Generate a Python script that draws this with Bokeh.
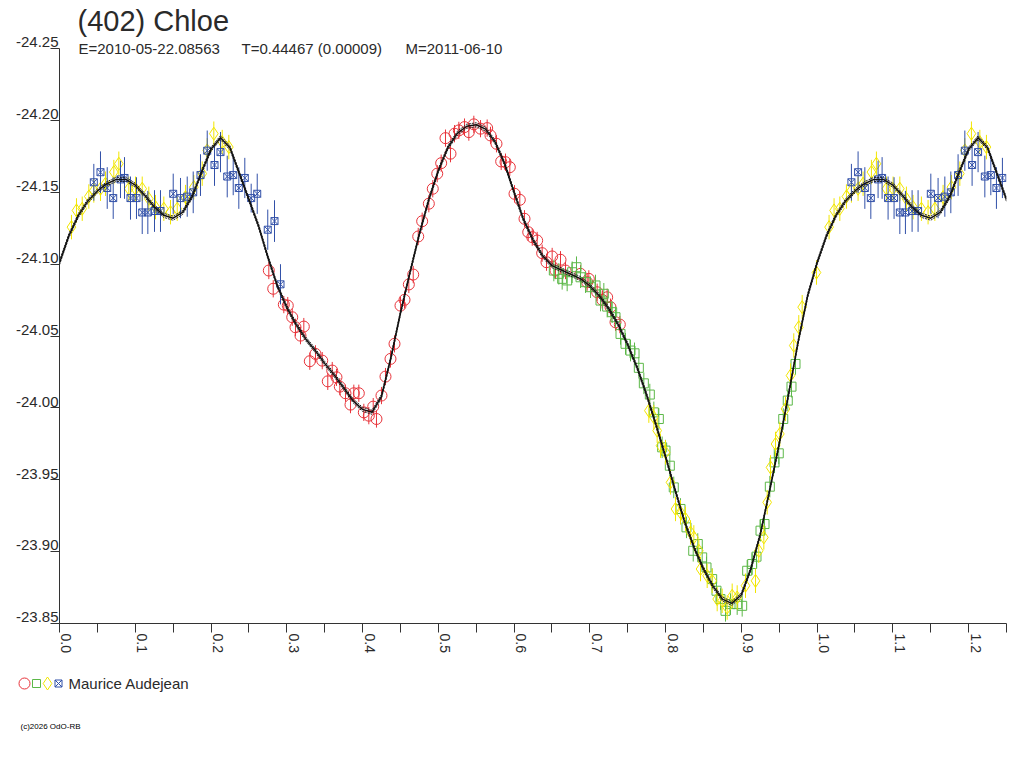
import math
from bokeh.plotting import figure
from bokeh.models import Range1d, FixedTicker, Label, ColumnDataSource, LinearAxis
from bokeh.layouts import column
from bokeh.embed import file_html
from bokeh.resources import INLINE
from bokeh.core.properties import value

# ---------------- data ----------------
TITLE = "(402) Chloe"
SUB_E = "E=2010-05-22.08563"
SUB_T = "T=0.44467 (0.00009)"
SUB_M = "M=2011-06-10"
OBSERVER = "Maurice Audejean"
COPYRIGHT = "(c)2026 OdO-RB"

X_TICKS = [0.0, 0.1, 0.2, 0.3, 0.4, 0.5, 0.6, 0.7, 0.8, 0.9, 1.0, 1.1, 1.2]
X_LABELS = ["0.0", "0.1", "0.2", "0.3", "0.4", "0.5", "0.6", "0.7", "0.8", "0.9", "1.0", "1.1", "1.2"]
X_MINOR = [0.05, 0.15, 0.25, 0.35, 0.45, 0.55, 0.65, 0.75, 0.85, 0.95, 1.05, 1.15, 1.25]
Y_TICKS = [-24.25, -24.20, -24.15, -24.10, -24.05, -24.00, -23.95, -23.90, -23.85]
Y_LABELS = ["-24.25", "-24.20", "-24.15", "-24.10", "-24.05", "-24.00", "-23.95", "-23.90", "-23.85"]
X_MIN, X_MAX = 0.0, 1.25
Y_BOTTOM, Y_AXIS_TOP, Y_FRAME_TOP = -23.85, -24.25, -24.28
WRAP_LIMIT = 0.25

red_phase = [0.2763, 0.2821, 0.2961, 0.3013, 0.3072, 0.3115, 0.3225, 0.3181, 0.3304, 0.3379,
             0.3468, 0.3541, 0.3600, 0.3656, 0.3700, 0.3775, 0.3841, 0.3885, 0.3951, 0.4017,
             0.4083, 0.4184, 0.4141, 0.4250, 0.4303, 0.4369, 0.4422, 0.4501, 0.4554, 0.4611,
             0.4669, 0.4735, 0.4787, 0.4875, 0.4927, 0.4986, 0.5038, 0.5095, 0.5161, 0.5214,
             0.5271, 0.5346, 0.5403, 0.5469, 0.5557, 0.5645, 0.5689, 0.5768, 0.5830, 0.5887,
             0.5944, 0.6006, 0.6076, 0.6138, 0.6187, 0.6240, 0.6305, 0.6371, 0.6428, 0.6503,
             0.6613, 0.6547, 0.6679, 0.6877, 0.6965, 0.6987, 0.7097, 0.7163, 0.7229, 0.7273,
             0.7339, 0.7396]
red_mag = [-24.0956, -24.0829, -24.0719, -24.0712, -24.0631, -24.0561, -24.0566, -24.0503, -24.0325, -24.0376,
           -24.0329, -24.0185, -24.0260, -24.0213, -24.0148, -24.0102, -24.0023, -24.0102, -24.0102, -23.9969,
           -23.9946, -23.9923, -24.0009, -24.0086, -24.0218, -24.0341, -24.0446, -24.0712, -24.0752, -24.0859,
           -24.0928, -24.1193, -24.1299, -24.1421, -24.1525, -24.1630, -24.1703, -24.1877, -24.1769, -24.1908,
           -24.1931, -24.1954, -24.1919, -24.1973, -24.1943, -24.1947, -24.1896, -24.1838, -24.1715, -24.1710,
           -24.1675, -24.1490, -24.1448, -24.1316, -24.1223, -24.1188, -24.1165, -24.1077, -24.1014, -24.1054,
           -24.1031, -24.0956, -24.0956, -24.0933, -24.0875, -24.0898, -24.0805, -24.0752, -24.0770, -24.0701,
           -24.0596, -24.0580]
red_err = 0.006

green_phase = [0.6525, 0.6591, 0.6701, 0.6635, 0.6767, 0.6824, 0.6877, 0.6943, 0.7009, 0.7075,
               0.7141, 0.7185, 0.7229, 0.7295, 0.7339, 0.7405, 0.7471, 0.7537, 0.7590, 0.7647,
               0.7713, 0.7792, 0.7845, 0.7911, 0.7955, 0.7999, 0.8056, 0.8108, 0.8197, 0.8276,
               0.8365, 0.8425, 0.8483, 0.8540, 0.8615, 0.8672, 0.8725, 0.8791, 0.8857, 0.8945,
               0.9011, 0.9077, 0.9143, 0.9200, 0.9253, 0.9306, 0.9376, 0.9438, 0.9494, 0.9553,
               0.9613, 0.9662, 0.9715]
green_mag = [-24.0956, -24.0933, -24.0887, -24.0898, -24.0944, -24.0979, -24.0909, -24.0875, -24.0840, -24.0852,
             -24.0747, -24.0794, -24.0705, -24.0666, -24.0631, -24.0515, -24.0446, -24.0399, -24.0380, -24.0279,
             -24.0171, -24.0093, -23.9969, -23.9923, -23.9726, -23.9703, -23.9598, -23.9447, -23.9297, -23.9169,
             -23.9006, -23.9053, -23.8960, -23.8890, -23.8809, -23.8728, -23.8670, -23.8588, -23.8635, -23.8635,
             -23.8623, -23.8867, -23.8914, -23.8965, -23.9146, -23.9192, -23.9452, -23.9621, -23.9684, -23.9923,
             -24.0051, -24.0148, -24.0306]
green_err = 0.0075

yellow_phase = [0.7779, 0.7845, 0.7889, 0.7933, 0.7999, 0.8065, 0.8131, 0.8197, 0.8263, 0.8329,
                0.8373, 0.8439, 0.8461, 0.8549, 0.8615, 0.8681, 0.8747, 0.8813, 0.8879, 0.8945,
                0.9055, 0.9187, 0.9230, 0.9297, 0.9341, 0.9385, 0.9451, 0.9508, 0.9583, 0.9649,
                0.9692, 0.9758, 0.9803, 0.9992,
                0.0158, 0.0224, 0.0300, 0.0387, 0.0453, 0.0541, 0.0607, 0.0717, 0.0783, 0.0915,
                0.1003, 0.1092, 0.1179, 0.1267, 0.1377, 0.1465, 0.1554, 0.1663, 0.1773, 0.1884,
                0.1950, 0.2037, 0.2148, 0.2235]
yellow_mag = [-23.9981, -23.9935, -23.9842, -23.9737, -23.9691, -23.9482, -23.9297, -23.9273, -23.9227, -23.9134,
              -23.9099, -23.9006, -23.8879, -23.8832, -23.8797, -23.8670, -23.8658, -23.8611, -23.8693, -23.8681,
              -23.8763, -23.8797, -23.9006, -23.9099, -23.9343, -23.9586, -23.9749, -23.9819, -23.9993, -24.0225,
              -24.0434, -24.0561, -24.0701, -24.0942,
              -24.1258, -24.1374, -24.1386, -24.1471, -24.1513, -24.1525, -24.1560, -24.1641, -24.1699, -24.1525,
              -24.1525, -24.1525, -24.1455, -24.1397, -24.1386, -24.1362, -24.1386, -24.1467, -24.1536, -24.1630,
              -24.1792, -24.1908, -24.1850, -24.1815]
yellow_err = 0.0085

blue_phase = [0.0453, 0.0541, 0.0630, 0.0709, 0.0805, 0.0858, 0.0937, 0.1016, 0.1092, 0.1166,
              0.1254, 0.1333, 0.1501, 0.1597, 0.1686, 0.1765, 0.1861, 0.1950, 0.2046, 0.2125,
              0.2214, 0.2293, 0.2367, 0.2446, 0.2530, 0.2610, 0.2749, 0.2838, 0.2917]
blue_mag = [-24.157, -24.164, -24.153, -24.146, -24.159, -24.160, -24.146, -24.146, -24.136, -24.136,
            -24.137, -24.137, -24.149, -24.146, -24.147, -24.150, -24.162, -24.179, -24.169, -24.178,
            -24.161, -24.162, -24.153, -24.160, -24.146, -24.149, -24.124, -24.130, -24.086]
blue_err = [0.0128, 0.0145, 0.0145, 0.0145, 0.0130, 0.0145, 0.0150, 0.0145, 0.0150, 0.0150,
            0.0145, 0.0145, 0.0140, 0.0140, 0.0140, 0.0145, 0.0145, 0.0140, 0.0145, 0.0140,
            0.0145, 0.0140, 0.0145, 0.0140, 0.0100, 0.0140, 0.0140, 0.0145, 0.0140]

fit_phase = [0.0, 0.0125, 0.025, 0.0375, 0.05, 0.0625, 0.075, 0.0875, 0.1, 0.1125,
             0.125, 0.1375, 0.15, 0.1625, 0.175, 0.1875, 0.2, 0.2125, 0.225, 0.2375,
             0.25, 0.2625, 0.275, 0.2875, 0.3, 0.3125, 0.325, 0.3375, 0.35, 0.3625,
             0.375, 0.3875, 0.4, 0.4125, 0.425, 0.4375, 0.45, 0.4625, 0.475, 0.4875,
             0.5, 0.5125, 0.525, 0.5375, 0.55, 0.5625, 0.575, 0.5875, 0.6, 0.6125,
             0.625, 0.6375, 0.65, 0.6625, 0.675, 0.6875, 0.7, 0.7125, 0.725, 0.7375,
             0.75, 0.7625, 0.775, 0.7875, 0.8, 0.8125, 0.825, 0.8375, 0.85, 0.8625,
             0.875, 0.8875, 0.9, 0.9125, 0.925, 0.9375, 0.95, 0.9625, 0.975, 0.9875, 1.0]
fit_mag = [-24.101, -24.120, -24.134, -24.144, -24.151, -24.156, -24.159, -24.159, -24.155, -24.148,
           -24.140, -24.134, -24.132, -24.136, -24.147, -24.164, -24.180, -24.188, -24.181, -24.163,
           -24.145, -24.127, -24.105, -24.085, -24.070, -24.058, -24.048, -24.040, -24.031, -24.023,
           -24.014, -24.005, -23.999, -23.997, -24.008, -24.035, -24.066, -24.094, -24.121, -24.145,
           -24.165, -24.181, -24.191, -24.196, -24.197, -24.194, -24.185, -24.170, -24.150, -24.131,
           -24.117, -24.106, -24.099, -24.096, -24.093, -24.090, -24.085, -24.078, -24.069, -24.058,
           -24.044, -24.028, -24.009, -23.988, -23.966, -23.943, -23.921, -23.903, -23.888, -23.876,
           -23.867, -23.864, -23.870, -23.888, -23.912, -23.943, -23.975, -24.010, -24.046, -24.078, -24.101]
FIT_BAND = 0.0014

# ---------------- styles ----------------
FONT = "Liberation Sans"
TXT = "#2a2a2a"
AX = "#333333"
RED = "#e8333a"
GREEN = "#5cb848"
YELLOW = "#f2e600"
BLUE = "#3150a8"
YLAB_SHIFT = 0.0043   # lift of the y tick labels above their tick (in magnitudes)
XLAB_SHIFT = 0.0092   # shift of the rotated x tick labels right of their tick (in phase)


def wrapped(ph, mg, err):
    errs = err if isinstance(err, list) else [err] * len(ph)
    xs, ys, es = list(ph), list(mg), list(errs)
    for a, b, c in zip(ph, mg, errs):
        if a < WRAP_LIMIT:
            xs.append(a + 1.0)
            ys.append(b)
            es.append(c)
    return dict(x=xs, y=ys, lo=[y - e for y, e in zip(ys, es)], hi=[y + e for y, e in zip(ys, es)])


p = figure(width=1016, height=662, x_range=Range1d(X_MIN, X_MAX),
           y_range=Range1d(Y_BOTTOM, Y_FRAME_TOP),
           output_backend="svg", toolbar_location=None,
           min_border_left=59, min_border_right=10, min_border_top=5, min_border_bottom=39)
p.frame_align = False
p.xgrid.visible = False
p.ygrid.visible = False
p.outline_line_color = None
p.extra_x_ranges = {"xlab": Range1d(X_MIN - XLAB_SHIFT, X_MAX - XLAB_SHIFT)}
p.extra_y_ranges = {"ylab": Range1d(Y_BOTTOM + YLAB_SHIFT, Y_FRAME_TOP + YLAB_SHIFT)}

for ax in (p.xaxis[0], p.yaxis[0]):
    ax.axis_line_color = AX
    ax.major_tick_line_color = AX
    ax.minor_tick_line_color = AX
    ax.major_tick_in = 0
    ax.major_tick_out = 9
    ax.minor_tick_in = 0
    ax.minor_tick_out = 9
    ax.major_label_standoff = 0
    ax.major_label_text_font_size = "1px"

p.xaxis[0].ticker = FixedTicker(ticks=X_TICKS, minor_ticks=X_MINOR)
p.xaxis[0].major_label_overrides = {t: "" for t in X_TICKS}
p.yaxis[0].ticker = FixedTicker(ticks=Y_TICKS, minor_ticks=[])
p.yaxis[0].major_label_overrides = {t: "" for t in Y_TICKS}
p.yaxis[0].bounds = (Y_AXIS_TOP, Y_BOTTOM)

# label-only axes (tick values written by the library's axes)
ylab = LinearAxis(y_range_name="ylab", ticker=FixedTicker(ticks=Y_TICKS, minor_ticks=[]),
                  major_label_overrides=dict(zip(Y_TICKS, Y_LABELS)),
                  axis_line_color=None, major_tick_line_color=None, minor_tick_line_color=None,
                  major_tick_out=0, major_tick_in=0, minor_tick_out=0, minor_tick_in=0,
                  major_label_standoff=-8, major_label_text_font=FONT,
                  major_label_text_font_size="15px", major_label_text_color=TXT)
p.add_layout(ylab, "left")
xlab = LinearAxis(x_range_name="xlab", ticker=FixedTicker(ticks=X_TICKS, minor_ticks=[]),
                  major_label_overrides=dict(zip(X_TICKS, X_LABELS)),
                  major_label_orientation=-math.pi / 2,
                  axis_line_color=None, major_tick_line_color=None, minor_tick_line_color=None,
                  major_tick_out=0, major_tick_in=0, minor_tick_out=0, minor_tick_in=0,
                  major_label_standoff=1, major_label_text_font=FONT,
                  major_label_text_font_size="14px", major_label_text_color=TXT)
p.add_layout(xlab, "below")

series = [
    (red_phase, red_mag, red_err, RED, "circle", 11),
    (green_phase, green_mag, green_err, GREEN, "square", 9),
    (yellow_phase, yellow_mag, yellow_err, YELLOW, "diamond", 13),
    (blue_phase, blue_mag, blue_err, BLUE, "square_x", 7),
]
for ph, mg, er, col, mk, sz in series:
    src = ColumnDataSource(wrapped(ph, mg, er))
    p.segment(x0="x", y0="lo", x1="x", y1="hi", source=src, line_color=col, line_width=1)
    p.scatter(x="x", y="y", source=src, marker=mk, size=sz, fill_color=None,
              line_color=col, line_width=1)

fx = list(fit_phase) + [a + 1.0 for a in fit_phase if 0 < a <= WRAP_LIMIT]
fy = list(fit_mag) + [b for a, b in zip(fit_phase, fit_mag) if 0 < a <= WRAP_LIMIT]
p.line(fx, [y - FIT_BAND for y in fy], line_color="#222222", line_width=1, line_dash="2 1")
p.line(fx, [y + FIT_BAND for y in fy], line_color="#222222", line_width=1, line_dash="2 1")
p.line(fx, fy, line_color="#111111", line_width=1.5)

# title & subtitle (anchor = vertical centre of the text)
p.add_layout(Label(x=X_MIN, y=Y_AXIS_TOP, text=TITLE, x_offset=18, y_offset=28, text_font=FONT,
                   text_font_size="29px", text_baseline="alphabetic", text_color=TXT))
for s, dx in ((SUB_E, 19), (SUB_T, 182), (SUB_M, 346)):
    p.add_layout(Label(x=X_MIN, y=Y_AXIS_TOP, text=s, x_offset=dx, y_offset=0, text_font=FONT,
                       text_font_size="15px", text_baseline="alphabetic", text_color=TXT))

# legend / footer strip
p2 = figure(width=1016, height=100, x_range=Range1d(0, 1016), y_range=Range1d(100, 0),
            output_backend="svg", toolbar_location=None, min_border=0,
            x_axis_type=None, y_axis_type=None)
p2.frame_align = False
p2.outline_line_color = None
p2.grid.visible = False
leg = ColumnDataSource(dict(x=[24, 36, 47, 58], y=[21, 21, 21, 21],
                            marker=["circle", "square", "diamond", "square_x"],
                            color=[RED, GREEN, YELLOW, BLUE], size=[11, 8, 13, 7]))
p2.scatter(x="x", y="y", marker="marker", size="size", line_color="color", fill_color=None,
           line_width=1, source=leg)
p2.text(x=[68], y=[21], text=[OBSERVER], text_font=value(FONT), text_font_size="15px",
        text_baseline="alphabetic", text_color=TXT)
p2.text(x=[20], y=[63.5], text=[COPYRIGHT], text_font=value(FONT), text_font_size="8px",
        text_baseline="alphabetic", text_color="#000000")

layout = column(p, p2, spacing=0)
open("out.html", "w").write(file_html(layout, INLINE))
